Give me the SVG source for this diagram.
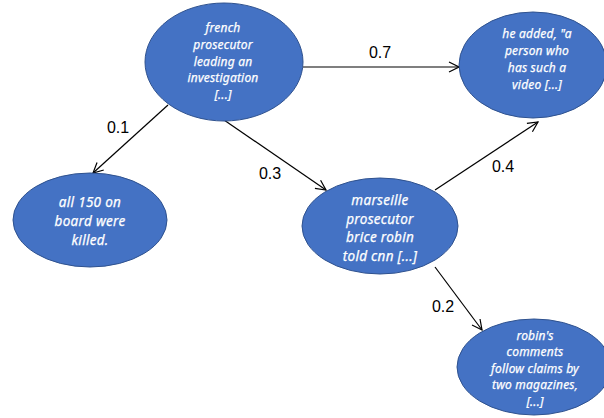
<svg xmlns="http://www.w3.org/2000/svg" width="604" height="418" viewBox="0 0 604 418">
  <style>
    .node ellipse { fill: #4472C4; stroke: #2F528F; stroke-width: 1; }
    .node text { fill: #ffffff; font-family: "Noto Sans", "Open Sans", sans-serif; font-style: italic; text-anchor: middle; stroke: #ffffff; stroke-width: 0.25; }
    .sm text { font-size: 12px; letter-spacing: 0.2px; }
    .lg text { font-size: 13.5px; letter-spacing: 0.3px; }
    .edge { stroke: #000000; stroke-width: 1.2; fill: none; marker-end: url(#arrow); }
    .wt { font-family: "Liberation Sans", Arial, sans-serif; font-size: 16px; fill: #000000; text-anchor: middle; }
  </style>
  <defs>
    <marker id="arrow" viewBox="0 0 12 12" refX="11" refY="6" markerWidth="12" markerHeight="12" markerUnits="userSpaceOnUse" orient="auto">
      <path d="M1,1 L11,6 L1,11" fill="none" stroke="#000000" stroke-width="1.2"/>
    </marker>
  </defs>

  <g id="connectors">
    <line class="edge" x1="303" y1="67" x2="459" y2="67"/>
    <line class="edge" x1="168" y1="105" x2="93" y2="173"/>
    <line class="edge" x1="224" y1="120" x2="326" y2="190"/>
    <line class="edge" x1="435" y1="190" x2="538" y2="122"/>
    <line class="edge" x1="435" y1="267" x2="482" y2="330"/>
    <text class="wt" x="380" y="58">0.7</text>
    <text class="wt" x="118" y="133">0.1</text>
    <text class="wt" x="270" y="179">0.3</text>
    <text class="wt" x="503" y="172">0.4</text>
    <text class="wt" x="443" y="312">0.2</text>
  </g>

  <g id="n-french" class="node sm">
    <ellipse cx="224" cy="62" rx="79" ry="59"/>
    <text x="223" y="32">french</text>
    <text x="223" y="49">prosecutor</text>
    <text x="223" y="65.5">leading an</text>
    <text x="223" y="82">investigation</text>
    <text x="223" y="98.5">[...]</text>
  </g>

  <g id="n-added" class="node sm">
    <ellipse cx="533" cy="65" rx="74" ry="53"/>
    <text x="537" y="38">he added, "a</text>
    <text x="537" y="55">person who</text>
    <text x="537" y="72">has such a</text>
    <text x="537" y="89">video [...]</text>
  </g>

  <g id="n-killed" class="node lg">
    <ellipse cx="90" cy="220" rx="77" ry="47"/>
    <text x="90" y="207">all 150 on</text>
    <text x="90" y="226">board were</text>
    <text x="90" y="245">killed.</text>
  </g>

  <g id="n-marseille" class="node lg">
    <ellipse cx="380" cy="226" rx="78" ry="48"/>
    <text x="380" y="205">marseille</text>
    <text x="380" y="223.5">prosecutor</text>
    <text x="380" y="242">brice robin</text>
    <text x="380" y="260.5">told cnn [...]</text>
  </g>

  <g id="n-robin" class="node sm">
    <ellipse cx="534" cy="367" rx="77" ry="48"/>
    <text x="535" y="340">robin's</text>
    <text x="535" y="356">comments</text>
    <text x="535" y="372.5">follow claims by</text>
    <text x="535" y="389">two magazines,</text>
    <text x="535" y="405.5">[...]</text>
  </g>
</svg>
